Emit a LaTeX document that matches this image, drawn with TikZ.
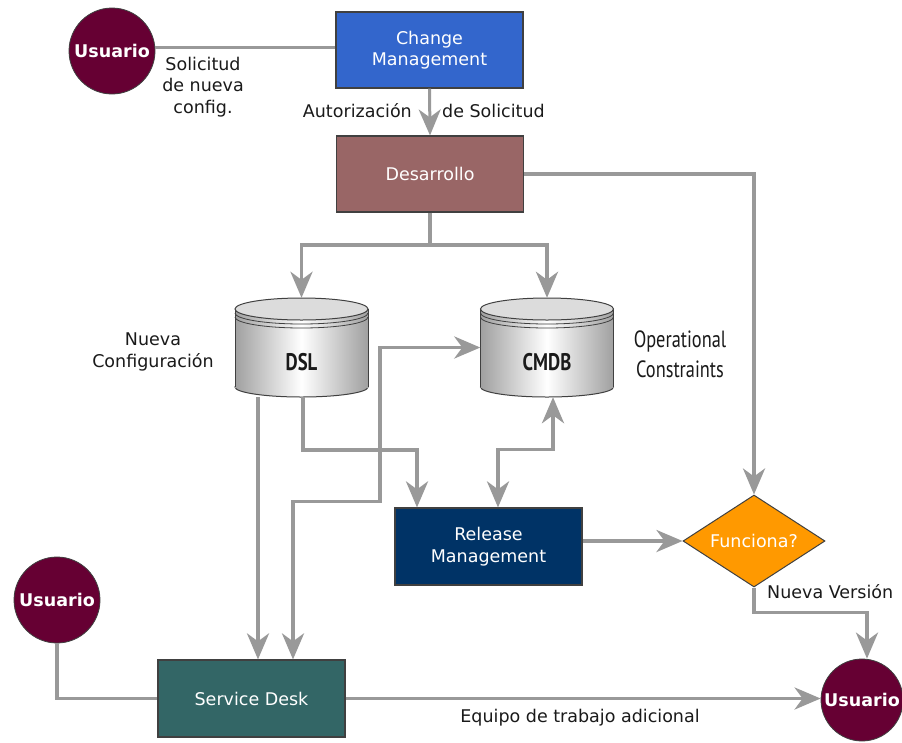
\documentclass[tikz,border=0pt]{standalone}
\usepackage{fontspec}
\setmainfont{DejaVu Sans}
\newfontfamily\narrowfont[FakeStretch=0.78]{PT Sans}
\usetikzlibrary{arrows.meta,shapes.geometric}

\definecolor{cmblue}{HTML}{3366CC}
\definecolor{devbrown}{HTML}{996666}
\definecolor{relnavy}{HTML}{003366}
\definecolor{sdteal}{HTML}{336666}
\definecolor{fnorange}{HTML}{FF9900}
\definecolor{usercol}{HTML}{660033}
\definecolor{linegray}{HTML}{999999}
\definecolor{edgegray}{HTML}{404040}
\definecolor{dbshade}{HTML}{A0A0A0}
\definecolor{dbtop}{HTML}{DCDCDC}
\definecolor{labelink}{HTML}{1A1A1A}

\newcommand\lblfont{\fontsize{17.5}{21.5}\selectfont}

% database cylinder drawn around a vertical axis at x = #1
\newcommand\drawdb[1]{%
  \path[left color=dbshade, right color=dbshade, middle color=white, draw=edgegray, line width=1pt]
    (#1,387) ellipse [x radius=66.5, y radius=10];
  \path[left color=dbshade, right color=dbshade, middle color=white]
    (#1-66.5,309) rectangle (#1+66.5,387);
  \draw[edgegray, line width=1pt] (#1-66.5,309) -- (#1-66.5,387) (#1+66.5,309) -- (#1+66.5,387);
  \begin{scope}
    \clip (#1-70,313) rectangle (#1+70,332);
    \draw[edgegray, line width=0.8pt] (#1,313) ellipse [x radius=66.5, y radius=11];
  \end{scope}
  \begin{scope}
    \clip (#1-70,317) rectangle (#1+70,336);
    \draw[edgegray, line width=0.8pt] (#1,317) ellipse [x radius=66.5, y radius=11];
  \end{scope}
  \path[fill=dbtop, draw=edgegray, line width=1pt] (#1,309) ellipse [x radius=66.5, y radius=11];
}

\tikzset{
  tiphead/.tip={Stealth[length=26pt,width=22pt,inset=8pt]},
  conn/.style={draw=linegray, line width=3.8pt},
  arr/.style={conn, -tiphead},
  twoway/.style={conn, tiphead-tiphead},
  procbox/.style={rectangle, draw=edgegray, line width=1.2pt, minimum width=187pt,
    minimum height=76pt, inner sep=0pt, text=white, font=\lblfont, align=center},
  user/.style={circle, fill=usercol, draw=edgegray, line width=0.8pt, minimum size=86pt,
    inner sep=0pt, text=white, font=\fontsize{17.5}{21}\selectfont\bfseries},
  dbslot/.style={rectangle, minimum width=133pt, minimum height=99pt, inner sep=0pt},
  dbtext/.style={font=\narrowfont\bfseries\fontsize{24}{26}\selectfont, text=labelink},
  note/.style={font=\lblfont, text=labelink, inner sep=0pt, align=center},
  narrownote/.style={font=\narrowfont\fontsize{23.5}{30}\selectfont, text=labelink, inner sep=0pt, align=center},
}

\begin{document}
\begin{tikzpicture}[x=1pt, y=-1pt]
\useasboundingbox[fill=white] (0,0) rectangle (902,742);

% cylinders
\drawdb{301.5}
\drawdb{547}

% nodes
\node[user] (u1) at (112,51) {Usuario};
\node[procbox, fill=cmblue] (cm) at (429.5,50) {Change\\Management};
\node[procbox, fill=devbrown] (dev) at (430,174) {Desarrollo};
\node[dbslot, label={[dbtext, yshift=-15pt]center:DSL}] (dsl) at (301.5,347.5) {};
\node[dbslot, label={[dbtext, yshift=-15pt]center:CMDB}] (cmdb) at (547,347.5) {};
\node[procbox, fill=relnavy, minimum height=77pt] (rel) at (488.5,546.5) {Release\\Management};
\node[diamond, fill=fnorange, draw=edgegray, line width=1pt, minimum width=142pt,
      minimum height=92pt, aspect=1.54, inner sep=0pt, text=white, font=\lblfont] (fn) at (754,541) {Funciona?};
\node[user] (u2) at (57,600) {Usuario};
\node[procbox, fill=sdteal, minimum height=77pt] (sd) at (251.5,698.5) {Service Desk};
\node[user, minimum size=82pt] (u3) at (862,700) {Usuario};

% labels
\node[note] (lsol) at (203,87) {Solicitud\\de nueva\\config.};
\node[note, anchor=east] (laut) at (412,111) {Autorización};
\node[note, anchor=west] (lsol2) at (442,111) {de Solicitud};
\node[note] (lnc) at (153,352) {Nueva\\Configuración};
\node[narrownote] (lop) at (680,354) {Operational\\Constraints};
\node[note, anchor=west] (lnv) at (767,592) {Nueva Versión};
\node[note] (leq) at (580,718) {Equipo de trabajo adicional};

% connectors
\draw[conn, line width=3pt] ([yshift=3pt]cm.west) -- ([yshift=3pt]cm.west -| u1.east);
\draw[arr, line width=3pt] (cm.south) -- (dev.north);
\coordinate (split) at (430,245);
\draw[conn] (dev.south) -- (split);
\draw[arr] (split) -| (dsl.north);
\draw[arr] (split) -| (cmdb.north);
\draw[arr] (dev.east) -| (fn.north);
\draw[arr] ([xshift=-43.5pt]dsl.south) -- ([xshift=-43.5pt]dsl.south |- sd.north);
\draw[arr] ([xshift=1.5pt]dsl.south) -- ++(0,53) -| ([xshift=-71.5pt]rel.north);
\draw[twoway] ([xshift=41.5pt]sd.north) -- ++(0,-158) -- ++(87,0) |- (cmdb.west);
\draw[twoway] ([xshift=9.5pt]rel.north) -- ++(0,-58) -| ([xshift=6pt]cmdb.south);
\draw[arr] (rel.east |- fn.west) -- (fn.west);
\draw[arr] (fn.south) -- ++(0,25) -| ([xshift=5pt]u3.north);
\draw[conn] (u2.south) |- (sd.west);
\draw[arr] (sd.east) -- (sd.east -| u3.west);
\end{tikzpicture}
\end{document}
